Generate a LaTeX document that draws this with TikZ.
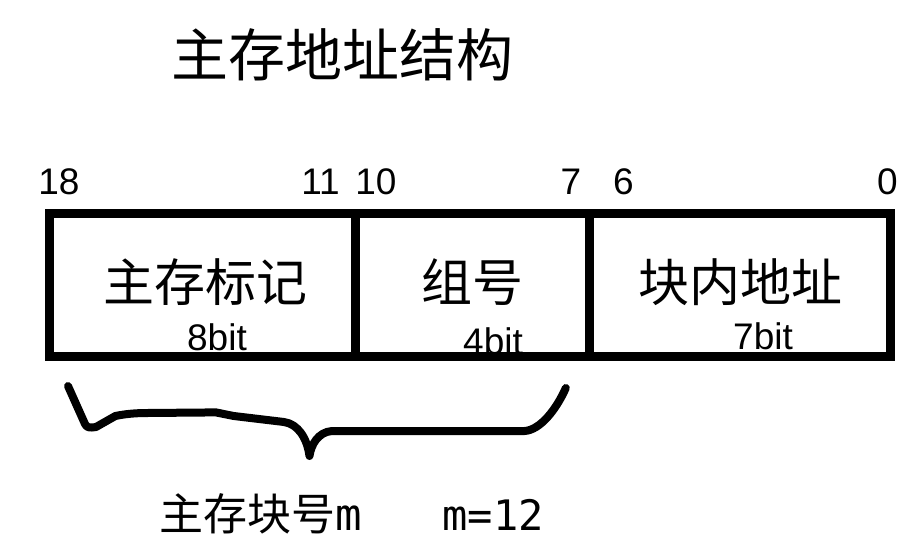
\documentclass[tikz,border=0pt]{standalone}
\usepackage{fontspec}
\setmainfont{Liberation Sans}
\newfontfamily\cjk{Noto Sans CJK SC}
\newfontfamily\monofnt{DejaVu Sans Mono}
\begin{document}
\begin{tikzpicture}[x=1pt,y=1pt,
  field/.style={draw=black,line width=9pt,minimum height=143.5pt,inner sep=0pt,outer sep=0pt,anchor=center},
  cjklabel/.style={font=\cjk\fontsize{51}{60}\selectfont,inner sep=0pt},
  bitnum/.style={font=\fontsize{37}{44}\selectfont,inner sep=0pt},
  bitlen/.style={font=\fontsize{37}{44}\selectfont,inner sep=0pt},
  bracepath/.style={line width=8pt,line cap=round,line join=round}
]
\useasboundingbox[fill=white] (0,0) rectangle (921,550);
% title
\node[font=\cjk\fontsize{57}{66}\selectfont,inner sep=0pt] (title) at (342,495) {主存地址结构};
% fields
\node[field,minimum width=305.5pt] (tag) at (202.25,265.25) {};
\node[field,minimum width=234.5pt] (grp) at (472.25,265.25) {};
\node[field,minimum width=300.5pt] (blk) at (739.75,265.25) {};
% field labels
\node[cjklabel] (tagl) at (205,268) {主存标记};
\node[cjklabel] (grpl) at (472,268) {组号};
\node[cjklabel] (blkl) at (740,268) {块内地址};
\node[bitlen] (tagb) at (217,213) {8bit};
\node[bitlen] (grpb) at (493,209) {4bit};
\node[bitlen] (blkb) at (763,214) {7bit};
% bit numbers
\node[bitnum] (n18) at (59,368) {18};
\node[bitnum] (n11) at (320.5,368) {11};
\node[bitnum] (n10) at (376,368) {10};
\node[bitnum] (n7) at (571,368) {7};
\node[bitnum] (n6) at (623.5,368) {6};
\node[bitnum] (n0) at (887.5,368) {0};
% brace
\coordinate (bs) at (68,164);
\coordinate (be) at (565.8,162);
\coordinate (btip) at (309.5,94);
\draw[bracepath] (bs) -- (85,126) .. controls (87,122) and (90,122) .. (96,123)
  -- (115.4,134) .. controls (125,136) and (135,137) .. (147.7,137)
  -- (215.9,137.6) -- (233.8,134) -- (284,128)
  .. controls (298,126) and (307,112) .. (btip)
  .. controls (311,105) and (318,118) .. (332,119)
  -- (524.6,119) .. controls (540,120) and (556,140) .. (be);
% bottom text
\node[font=\cjk\fontsize{44}{52}\selectfont,inner sep=0pt,anchor=base] (mlabel) at (261,20) {主存块号{\monofnt m}};
\node[font=\monofnt\fontsize{42}{50}\selectfont,inner sep=0pt,anchor=base] (mval) at (493,20) {m=12};
\end{tikzpicture}
\end{document}
